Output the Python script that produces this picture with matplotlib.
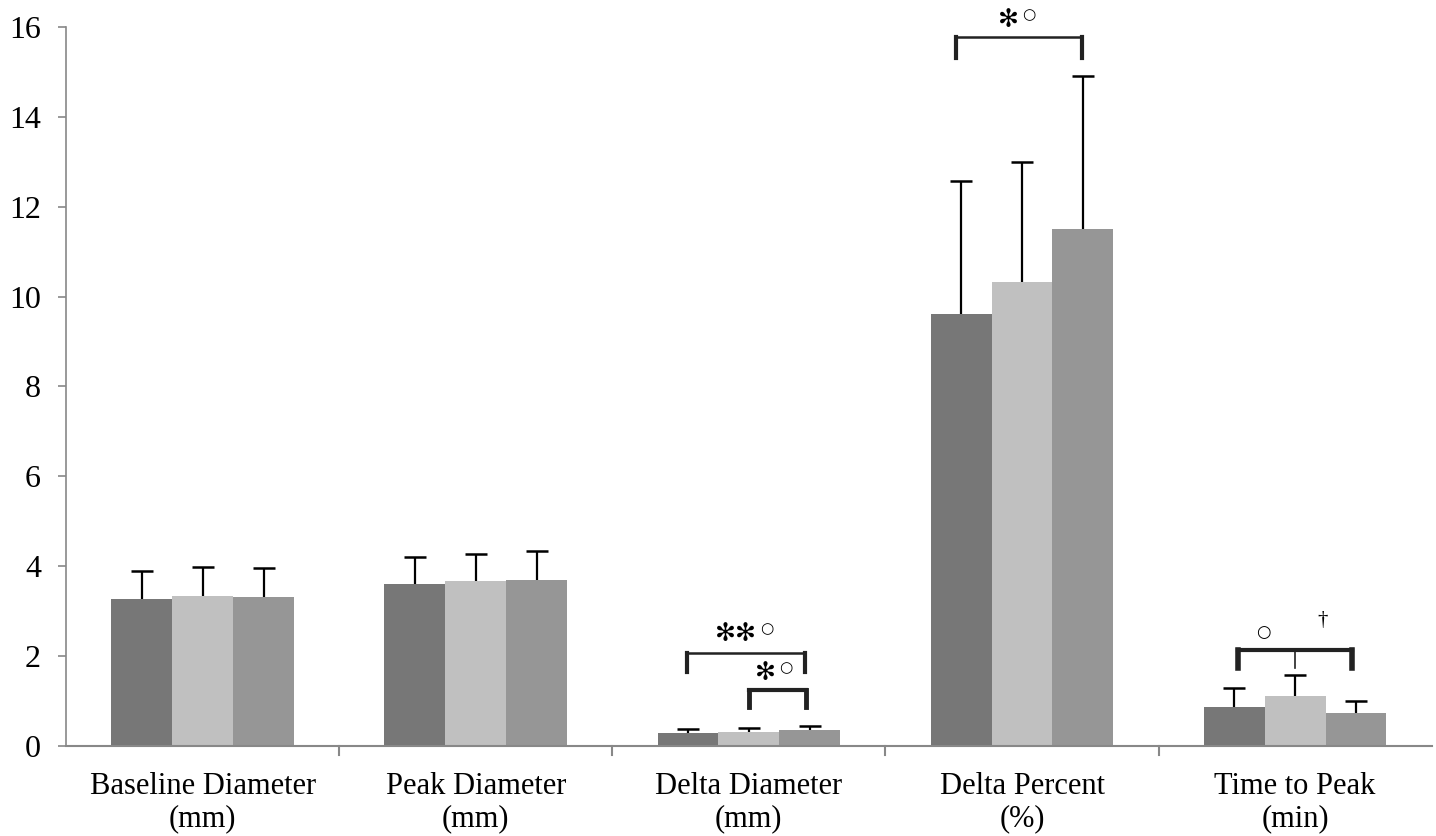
import matplotlib.pyplot as plt
import numpy as np

plt.rcParams['font.family'] = ['Liberation Serif', 'DejaVu Serif']

# Data
categories = ["Baseline Diameter\n(mm)", "Peak Diameter\n(mm)", "Delta Diameter\n(mm)",
              "Delta Percent\n(%)", "Time to Peak\n(min)"]
series1 = [3.28, 3.60, 0.28, 9.62, 0.87]
series2 = [3.33, 3.67, 0.31, 10.33, 1.11]
series3 = [3.32, 3.69, 0.35, 11.50, 0.73]
err1 = [0.62, 0.61, 0.10, 2.96, 0.43]
err2 = [0.65, 0.61, 0.08, 2.67, 0.46]
err3 = [0.65, 0.64, 0.09, 3.42, 0.27]
colors = ["#777777", "#c0c0c0", "#969696"]

fig = plt.figure(figsize=(14.36, 8.36), dpi=100)
ax = fig.add_axes([0.046, 0.1077, 0.951, 0.86])

x = np.arange(len(categories))
w = 0.223
for k, (vals, errs) in enumerate([(series1, err1), (series2, err2), (series3, err3)]):
    pos = x + (k - 1) * w
    vals = np.array(vals)
    tops = vals + np.array(errs)
    ax.bar(pos, vals, width=w, color=colors[k], zorder=2)
    # upper error bar only, cap on top
    ax.vlines(pos, vals, tops, color='black', lw=1.6, zorder=3)
    ax.plot(pos, tops, ls='none', marker='_', ms=16, mew=1.8, color='black', zorder=3)

ax.set_xlim(-0.5, 4.5)
ax.set_ylim(0, 16)
ax.set_yticks(range(0, 17, 2))
ax.tick_params(axis='y', labelsize=23, length=6, color='#888888', width=1.2,
               direction='out', pad=12)

# category labels with separator ticks
ax.set_xticks(x)
ax.set_xticklabels(categories, fontsize=22, linespacing=1.15)
ax.tick_params(axis='x', length=0, pad=19)
for b in np.arange(0.5, 4.5, 1.0):
    ax.plot([b, b], [0, -0.2], color='#888888', lw=1.5, clip_on=False)

for s in ['top', 'right']:
    ax.spines[s].set_visible(False)
ax.spines['left'].set_color('#888888')
ax.spines['bottom'].set_color('#888888')
ax.spines['left'].set_linewidth(1.2)
ax.spines['bottom'].set_linewidth(1.5)


def bracket(x0, x1, ytop, ybot, lw=1.8, lwleg=3):
    ax.plot([x0, x1], [ytop, ytop], color='#222222', lw=lw, clip_on=False, zorder=4)
    ax.plot([x0, x0], [ytop, ybot], color='#222222', lw=lwleg, clip_on=False, zorder=4)
    ax.plot([x1, x1], [ytop, ybot], color='#222222', lw=lwleg, clip_on=False, zorder=4)


def sig(xr, y, stars):
    # stars end at xr, small circle just after
    ax.text(xr, y, stars, ha='right', va='center', fontsize=18,
            family=['DejaVu Sans'], clip_on=False)
    ax.text(xr + 0.01, y + 0.12, "○", ha='left', va='center', fontsize=11,
            family=['DejaVu Sans'], clip_on=False)


# Delta Diameter
bracket(2 - 0.227, 2 + 0.205, 2.07, 1.65)
sig(2.03, 2.5, "✻✻")
bracket(2.0, 2.21, 1.25, 0.87, lw=3, lwleg=3.5)
sig(2.1, 1.63, "✻")

# Delta Percent
bracket(3 - 0.24, 3 + 0.22, 15.78, 15.3)
sig(2.99, 16.15, "✻")

# Time to Peak
bracket(4 - 0.21, 4 + 0.21, 2.13, 1.74, lw=3, lwleg=4)
ax.plot([4.0, 4.0], [2.13, 1.74], color='#222222', lw=1.2, zorder=4)
ax.text(3.885, 2.53, "○", ha='center', va='center', fontsize=12, family=['DejaVu Sans'])
ax.text(4.1, 2.8, "†", ha='center', va='center', fontsize=15)

fig.savefig("out.png", dpi=100)
